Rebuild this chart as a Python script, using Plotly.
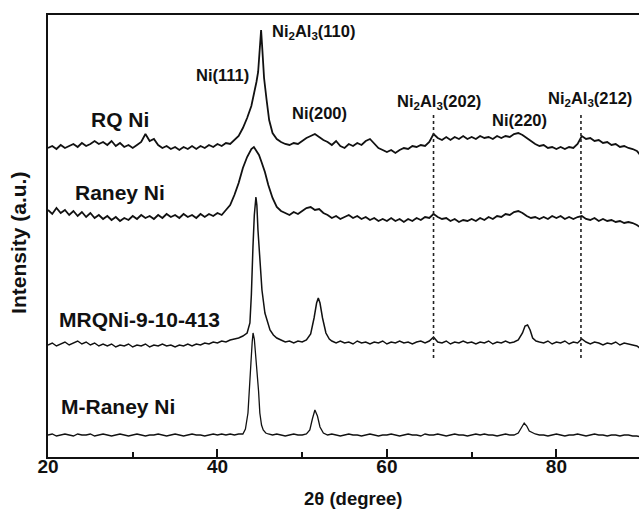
import plotly.graph_objects as go

# ---------------- data (2theta in degree, intensity in a.u., stacked as drawn) ----------------
rq_x = [20, 20.5, 21, 21.5, 22, 22.5, 23, 23.5, 24, 24.5, 25, 25.5, 26, 26.5, 27, 27.5, 28, 28.5, 29, 29.5,
        30, 30.5, 31, 31.5, 32, 32.5, 33, 33.5, 34, 34.5, 35, 35.5, 36, 36.5, 37, 37.5, 38, 38.5, 39, 39.5,
        40, 40.5, 41, 41.5, 42, 42.5, 43, 43.5, 44,
        44.3, 44.6, 44.8, 45.0, 45.15, 45.3, 45.5, 45.8, 46.1, 46.5,
        47, 47.5, 48, 48.5, 49, 49.5, 50, 50.5, 51, 51.5, 52, 52.5, 53, 53.5, 54, 54.5, 55, 55.5, 56, 56.5,
        57, 57.5, 58, 58.5, 59, 59.5, 60, 60.5, 61, 61.5, 62, 62.5, 63, 63.5, 64, 64.5, 65, 65.5, 66, 66.5,
        67, 67.5, 68, 68.5, 69, 69.5, 70, 70.5, 71, 71.5, 72, 72.5, 73, 73.5, 74, 74.5, 75, 75.5, 76, 76.5,
        77, 77.5, 78, 78.5, 79, 79.5, 80, 80.5, 81, 81.5, 82, 82.5, 83, 83.5, 84, 84.5, 85, 85.5, 86, 86.5,
        87, 87.5, 88, 88.5, 89, 89.5, 90]
rq_y = [309, 311, 308, 312, 309, 311, 313, 310, 314, 311, 313, 316, 313, 315, 312, 316, 311, 314, 310, 312,
        309, 312, 315, 323, 316, 318, 312, 309, 311, 308, 310, 307, 310, 308, 311, 308, 311, 309, 312, 310,
        313, 311, 314, 313, 317, 321, 329, 339, 351,
        362, 375, 385, 412, 427, 407, 379, 357, 337, 324,
        318, 315, 313, 312, 314, 313, 316, 319, 321, 323, 320, 317, 315, 312, 316, 311, 309, 313, 311, 314,
        312, 316, 318, 313, 309, 307, 305, 307, 304, 307, 309, 308, 311, 310, 312, 311, 315, 323, 319, 317,
        320, 317, 320, 318, 321, 318, 320, 318, 321, 319, 320, 318, 321, 319, 321, 320, 323, 324, 322, 319,
        316, 313, 311, 312, 309, 310, 308, 310, 308, 310, 309, 313, 321, 318, 319, 316, 317, 314, 315, 312,
        313, 310, 311, 309, 308, 306, 301]

raney_x = [20, 20.5, 21, 21.5, 22, 22.5, 23, 23.5, 24, 24.5, 25, 25.5, 26, 26.5, 27, 27.5, 28, 28.5, 29, 29.5,
           30, 30.5, 31, 31.5, 32, 32.5, 33, 33.5, 34, 34.5, 35, 35.5, 36, 36.5, 37, 37.5, 38, 38.5, 39, 39.5,
           40, 40.5, 41, 41.5, 42, 42.5, 43, 43.5, 44,
           44.3, 44.6, 44.9, 45.2, 45.6,
           46, 46.5, 47, 47.5, 48, 48.5, 49, 49.5, 50, 50.5, 51, 51.5, 52, 52.5, 53, 53.5, 54, 54.5, 55, 55.5,
           56, 56.5, 57, 57.5, 58, 58.5, 59, 59.5, 60, 60.5, 61, 61.5, 62, 62.5, 63, 63.5, 64, 64.5, 65, 65.5,
           66, 66.5, 67, 67.5, 68, 68.5, 69, 69.5, 70, 70.5, 71, 71.5, 72, 72.5, 73, 73.5, 74, 74.5, 75, 75.5,
           76, 76.5, 77, 77.5, 78, 78.5, 79, 79.5, 80, 80.5, 81, 81.5, 82, 82.5, 83, 83.5, 84, 84.5, 85, 85.5,
           86, 86.5, 87, 87.5, 88, 88.5, 89, 89.5, 90]
raney_y = [247, 243, 249, 244, 247, 242, 246, 241, 245, 240, 244, 239, 242, 238, 241, 237, 240, 236, 239, 237,
           241, 238, 242, 239, 241, 238, 242, 239, 243, 240, 242, 239, 243, 240, 242, 239, 243, 240, 243, 241,
           244, 242, 247, 252, 262, 274, 289, 300, 308,
           310, 306, 302, 295, 285,
           272, 259, 250, 246, 244, 242, 245, 243, 246, 249, 250, 247, 248, 244, 242, 239, 241, 238, 240, 242,
           239, 241, 238, 240, 237, 239, 236, 238, 236, 239, 236, 238, 235, 238, 236, 239, 237, 240, 239, 243,
           240, 238, 239, 236, 238, 235, 237, 236, 238, 236, 239, 237, 240, 238, 241, 240, 243, 242, 245, 246,
           244, 241, 239, 240, 238, 240, 238, 241, 239, 241, 238, 240, 238, 240, 241, 238, 237, 239, 236, 238,
           236, 237, 235, 236, 234, 235, 234, 232, 229]

mrq_x = [20, 20.5, 21, 21.5, 22, 22.5, 23, 23.5, 24, 24.5, 25, 25.5, 26, 26.5, 27, 27.5, 28, 28.5, 29, 29.5,
         30, 30.5, 31, 31.5, 32, 32.5, 33, 33.5, 34, 34.5, 35, 35.5, 36, 36.5, 37, 37.5, 38, 38.5, 39, 39.5,
         40, 40.5, 41, 41.5, 42, 42.5, 43, 43.5,
         43.83, 44.0, 44.19, 44.35, 44.54, 44.65, 44.78, 45.0, 45.25, 45.6, 45.9, 46.2, 46.6,
         47, 47.5, 48, 48.5, 49, 49.5, 50, 50.5,
         51, 51.4, 51.7, 51.9, 52.1, 52.4, 52.8, 53.2,
         53.5, 54, 54.5, 55, 55.5, 56, 56.5, 57, 57.5, 58, 58.5, 59, 59.5, 60, 60.5, 61, 61.5, 62, 62.5, 63,
         63.5, 64, 64.5, 65, 65.5, 66, 66.5, 67, 67.5, 68, 68.5, 69, 69.5, 70, 70.5, 71, 71.5, 72, 72.5, 73,
         73.5, 74, 74.5, 75, 75.5,
         76, 76.3, 76.6, 76.9, 77.2, 77.6,
         78, 78.5, 79, 79.5, 80, 80.5, 81, 81.5, 82, 82.5, 83, 83.5, 84, 84.5, 85, 85.5, 86, 86.5, 87, 87.5,
         88, 88.5, 89, 89.5, 90]
mrq_y = [112, 114, 111, 113, 115, 112, 114, 116, 113, 115, 112, 114, 111, 113, 111, 113, 110, 112, 111, 113,
         110, 112, 111, 113, 110, 112, 111, 113, 111, 112, 110, 112, 111, 113, 111, 113, 112, 114, 113, 115,
         114, 116, 115, 117, 118, 119, 121, 124,
         134, 162, 210, 242, 260, 252, 227, 195, 167, 144, 134, 127, 122,
         119, 117, 115, 116, 114, 116, 115, 117,
         123, 139, 154, 159, 154, 139, 124, 118,
         116, 114, 116, 114, 115, 113, 116, 114, 115, 113, 115, 114, 116, 113, 115, 114, 116, 114, 115, 113,
         115, 116, 114, 116, 120, 115, 114, 116, 113, 115, 114, 116, 114, 115, 113, 115, 114, 116, 113, 115,
         114, 116, 114, 115, 117,
         124, 131, 132, 127, 119, 116,
         115, 114, 116, 113, 115, 114, 116, 113, 115, 114, 118, 115, 113, 115, 114, 112, 114, 113, 115, 112,
         114, 113, 112, 111, 108]

mraney_x = [20, 20.5, 21, 21.5, 22, 22.5, 23, 23.5, 24, 24.5, 25, 25.5, 26, 26.5, 27, 27.5, 28, 28.5, 29, 29.5,
            30, 30.5, 31, 31.5, 32, 32.5, 33, 33.5, 34, 34.5, 35, 35.5, 36, 36.5, 37, 37.5, 38, 38.5, 39, 39.5,
            40, 40.5, 41, 41.5, 42, 42.5, 43,
            43.3, 43.6, 43.8, 43.95, 44.1, 44.2, 44.35, 44.5, 44.66, 44.85, 45.0, 45.2, 45.4, 45.7,
            46, 46.5, 47, 47.5, 48, 48.5, 49, 49.5, 50, 50.5,
            50.9, 51.2, 51.5, 51.8, 52.1,
            52.5, 53, 53.5, 54, 54.5, 55, 55.5, 56, 56.5, 57, 57.5, 58, 58.5, 59, 59.5, 60, 60.5, 61, 61.5, 62,
            62.5, 63, 63.5, 64, 64.5, 65, 65.5, 66, 66.5, 67, 67.5, 68, 68.5, 69, 69.5, 70, 70.5, 71, 71.5, 72,
            72.5, 73, 73.5, 74, 74.5, 75, 75.5,
            75.7, 76.0, 76.2, 76.5, 76.8,
            77.5, 78, 78.5, 79, 79.5, 80, 80.5, 81, 81.5, 82, 82.5, 83, 83.5, 84, 84.5, 85, 85.5, 86, 86.5, 87,
            87.5, 88, 88.5, 89, 89.5, 90]
mraney_y = [22, 23, 21, 22, 23, 22, 21, 23, 22, 22, 23, 21, 22, 23, 22, 21, 22, 23, 22, 21,
            22, 23, 22, 21, 22, 22, 23, 22, 21, 22, 23, 22, 21, 22, 23, 22, 22, 21, 22, 23,
            22, 23, 22, 23, 22, 23, 23,
            28, 44, 68, 94, 115, 124, 118, 104, 90, 66, 44, 32, 27, 24,
            23, 22, 23, 22, 21, 22, 23, 22, 22, 23,
            27, 38, 47, 41, 30,
            24, 22, 23, 22, 21, 22, 23, 22, 22, 21, 22, 23, 22, 21, 22, 22, 23, 22, 21, 22,
            23, 22, 22, 21, 23, 22, 22, 23, 22, 21, 22, 23, 22, 22, 21, 22, 23, 22, 23, 22,
            22, 21, 22, 23, 22, 22, 24,
            27, 32, 34, 31, 26,
            23, 22, 22, 21, 22, 23, 22, 21, 22, 22, 23, 22, 21, 22, 23, 22, 22, 21, 22, 22,
            21, 22, 22, 21, 21, 20]

series_names = ["RQ Ni", "Raney Ni", "MRQNi-9-10-413", "M-Raney Ni"]
series_x = [rq_x, raney_x, mrq_x, mraney_x]
series_y = [rq_y, raney_y, mrq_y, mraney_y]
series_width = [1.8, 1.8, 1.5, 1.3]

# Ni2Al3 reference positions (dotted guide lines) and their vertical span
ni2al3_pos = [65.5, 82.9]
guide_span = [99, 342]

# series label positions (x in degree, y in a.u.)
label_x = [28.5, 28.5, 30.85, 28.3]
label_y = [338, 265, 138, 51]

peak_labels = ["Ni(111)", "Ni<sub>2</sub>Al<sub>3</sub>(110)", "Ni(200)",
               "Ni<sub>2</sub>Al<sub>3</sub>(202)", "Ni(220)", "Ni<sub>2</sub>Al<sub>3</sub>(212)"]
peak_label_x = [40.65, 51.3, 52.1, 66.1, 75.6, 83.95]
peak_label_y = [382, 425, 344, 355, 337, 358]

x_ticks = [20, 40, 60, 80]
x_minor = [30, 50, 70]

FONT = "Liberation Sans, Arial, Helvetica, sans-serif"

fig = go.Figure()
for xs, ys, nm, w in zip(series_x, series_y, series_names, series_width):
    assert len(xs) == len(ys), nm
    fig.add_trace(go.Scatter(x=xs, y=ys, mode="lines", name=nm,
                             line=dict(color="#111111", width=w), showlegend=False))

for p in ni2al3_pos:
    fig.add_trace(go.Scatter(x=[p, p], y=guide_span, mode="lines", showlegend=False,
                             line=dict(color="#222222", width=1.6, dash="dot")))

for nm, lx, ly in zip(series_names, label_x, label_y):
    fig.add_annotation(x=lx, y=ly, xref="x", yref="y", text=nm, showarrow=False,
                       font=dict(family=FONT, size=21, color="#111111", weight="bold"))

for t, lx, ly in zip(peak_labels, peak_label_x, peak_label_y):
    fig.add_annotation(x=lx, y=ly, xref="x", yref="y", text=t, showarrow=False,
                       font=dict(family=FONT, size=16.5, color="#111111", weight="bold"))

fig.add_annotation(x=-0.051, y=0.484, xref="paper", yref="paper", text="Intensity (a.u.)",
                   textangle=-90, showarrow=False, xanchor="center", yanchor="middle",
                   font=dict(family=FONT, size=21, color="#111111", weight="bold"))
fig.add_annotation(x=0.516, y=-0.093, xref="paper", yref="paper", text="2θ (degree)",
                   showarrow=False, xanchor="center", yanchor="middle",
                   font=dict(family=FONT, size=18.5, color="#111111", weight="bold"))

fig.update_xaxes(range=[20, 89.75], tickvals=x_ticks, ticktext=[str(v) for v in x_ticks],
                 ticks="inside", ticklen=8, tickwidth=2, tickcolor="#111111",
                 ticklabelstandoff=-9,
                 showline=True, linewidth=2, linecolor="#111111", mirror=True,
                 showgrid=False, zeroline=False,
                 tickfont=dict(family=FONT, size=19, color="#111111", weight="bold"),
                 minor=dict(tickvals=x_minor, ticks="inside", ticklen=5, tickwidth=2, tickcolor="#111111"))
fig.update_yaxes(range=[0, 442], showticklabels=False, ticks="", showline=True, linewidth=2,
                 linecolor="#111111", mirror=False, showgrid=False, zeroline=False)

fig.update_layout(width=639, height=510, margin=dict(l=48, r=0, t=15, b=53),
                  paper_bgcolor="white", plot_bgcolor="white")

fig.write_html("out.html")
